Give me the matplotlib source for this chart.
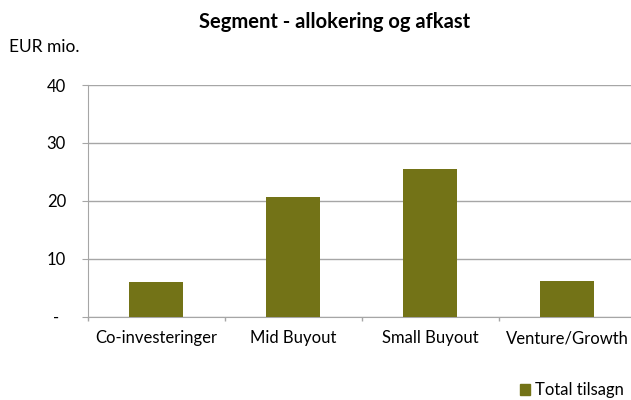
import matplotlib
matplotlib.use("Agg")
import matplotlib.pyplot as plt
import matplotlib.transforms as mtransforms
from matplotlib.patches import Patch

plt.rcParams['font.family'] = ['Lato', 'DejaVu Sans']

categories = ["Co-investeringer", "Mid Buyout", "Small Buyout", "Venture/Growth"]
values = [6.0, 20.6, 25.5, 6.2]
yticks = [0, 10, 20, 30, 40]
ytick_labels = ["-", "10", "20", "30", "40"]
bar_color = "#737317"
grid_color = "#a6a6a6"

W, H = 631, 400
fig = plt.figure(figsize=(W/100, H/100), dpi=100)
left, right, top, bottom = 87.5, 635.5, 85, 316.5
ax = fig.add_axes([left/W, 1-bottom/H, (right-left)/W, (bottom-top)/H])

x = list(range(len(categories)))
ax.bar(x, values, width=0.40, color=bar_color, zorder=3)
ax.set_xlim(-0.5, len(categories)-0.5)
ax.set_ylim(0, 40)
ax.set_yticks(yticks)
ax.set_yticklabels(ytick_labels, fontsize=12)
ax.set_xticks(x)
ax.set_xticklabels(categories, fontsize=12)
ax.set_xticks([i - 0.5 for i in range(len(categories) + 1)], minor=True)
ax.tick_params(axis='x', which='major', length=0, pad=10)
ax.tick_params(axis='x', which='minor', length=3, color=grid_color, width=1)
ax.tick_params(axis='y', length=4.5, color=grid_color, pad=11)
ax.grid(axis='y', color=grid_color, linewidth=1, zorder=0)
for s in ['top', 'right']:
    ax.spines[s].set_visible(False)
ax.spines['left'].set_color(grid_color)
ax.spines['bottom'].set_color(grid_color)

# Excel accounting-style dash sits a bit left of the right-aligned numbers
lbl0 = ax.get_yticklabels()[0]
lbl0.set_transform(lbl0.get_transform() +
                   mtransforms.ScaledTranslation(-7/100, 0, fig.dpi_scale_trans))

fig.text(335/W, 1-22/H, "Segment - allokering og afkast", ha='center', va='center',
         fontsize=14.5, fontweight='bold')
fig.text(9/W, 1-47/H, "EUR mio.", ha='left', va='center', fontsize=12.5)

fig.legend(handles=[Patch(color=bar_color, label="Total tilsagn")],
           loc='lower right', bbox_to_anchor=(1.0, -0.012), frameon=False,
           fontsize=12, handlelength=0.6, handleheight=0.6, handletextpad=0.3,
           borderaxespad=0.0)

fig.savefig("out.png", dpi=100)
